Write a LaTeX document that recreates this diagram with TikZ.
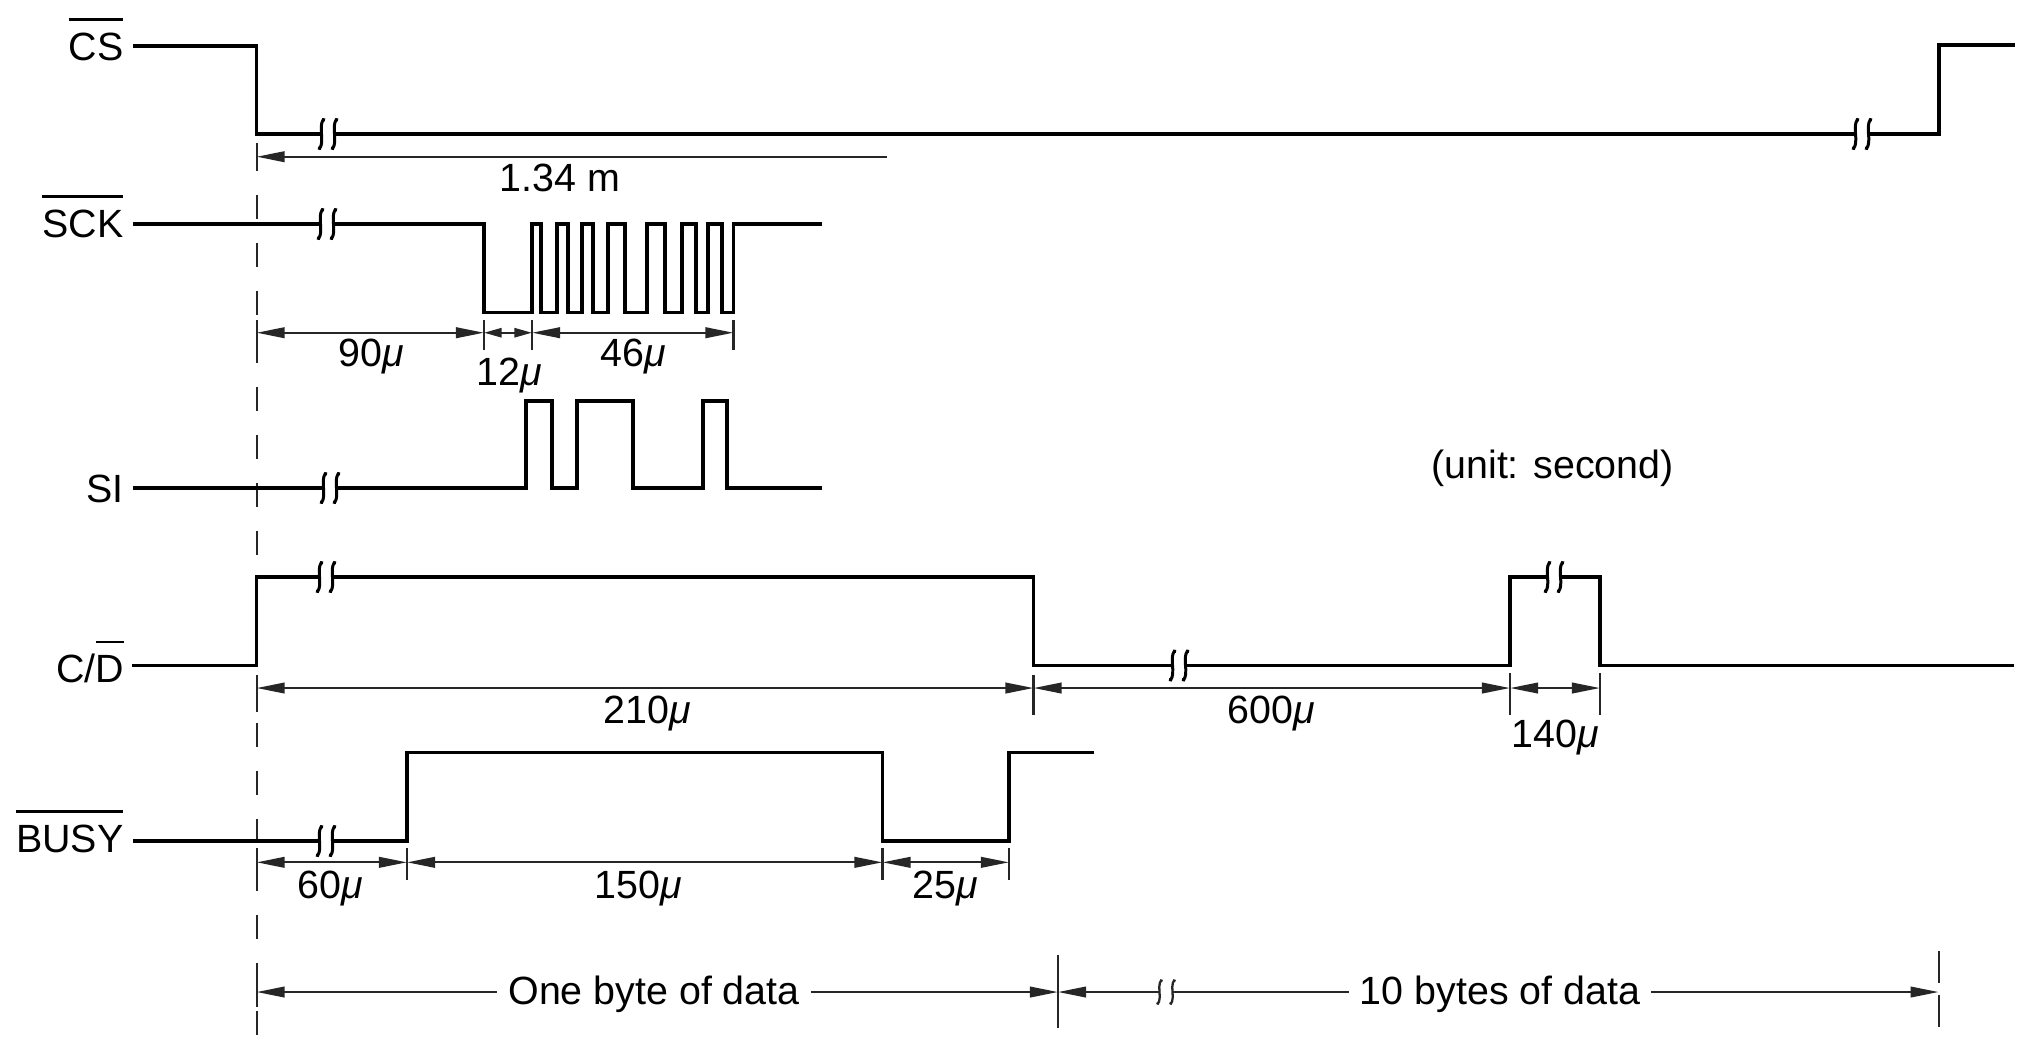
\documentclass[tikz,border=0pt]{standalone}
\usepackage{fontspec}
\setmainfont{Liberation Sans}
\usetikzlibrary{arrows.meta}
\newcommand{\ovl}[1]{\vbox{\hrule height 0.7pt\kern 3.4pt\hbox{#1}}}
\newcommand{\mus}{{\itshape μ}}
\begin{document}
\begin{tikzpicture}[x=0.01cm,y=-0.01cm,
  sig/.style={line width=0.9pt, line join=miter, black},
  dimline/.style={line width=0.65pt, black!85},
  tickline/.style={line width=0.6pt, black!85},
  both/.style={dimline, {Triangle[length=8pt,width=3pt]}-{Triangle[length=8pt,width=3pt]}},
  bothsmall/.style={dimline, {Triangle[length=5pt,width=2.6pt]}-{Triangle[length=5pt,width=2.6pt]}},
  lft/.style={dimline, {Triangle[length=8pt,width=3pt]}-},
  rgt/.style={dimline, -{Triangle[length=8pt,width=3pt]}},
  lbl/.style={font=\fontsize{11.2}{13}\selectfont, inner sep=0pt},
  guide/.style={line width=0.6pt, black!85, dash pattern=on 6.8pt off 6.85pt},
  brk/.pic={
    \draw[sig, line width=0.85pt] (-3,-14) .. controls (-5.5,-17) and (-7.5,-9) .. (-6.5,0) .. controls (-5.5,9) and (-7.5,17) .. (-10,14);
    \draw[sig, line width=0.85pt] (10,-14) .. controls (7.5,-17) and (5.5,-9) .. (6.5,0) .. controls (7.5,9) and (5.5,17) .. (3,14);
  },
  brkd/.pic={
    \draw[dimline] (-3.5,-11) .. controls (-5.5,-14) and (-7.5,-7) .. (-6.5,0) .. controls (-5.5,7) and (-7.5,14) .. (-9.5,11);
    \draw[dimline] (9.5,-11) .. controls (7.5,-14) and (5.5,-7) .. (6.5,0) .. controls (7.5,7) and (5.5,14) .. (3.5,11);
  }
]
\useasboundingbox (0,0) rectangle (2022,1050);

% ---------- signal labels ----------
\node[lbl, anchor=base east] (lcs)   at (124,60)  {\ovl{CS}};
\node[lbl, anchor=base east] (lsck)  at (124,237) {\ovl{SCK}};
\node[lbl, anchor=base east] (lsi)   at (124,502) {SI};
\node[lbl, anchor=base east] (lcd)   at (125,682) {C/\ovl{D}};
\node[lbl, anchor=base east] (lbusy) at (124,852) {\ovl{BUSY}};

% ---------- reference dashed line ----------
\draw[guide] (256.6,147) -- (256.6,1050);

% ---------- CS ----------
\draw[sig] (133,46) -- (256.6,46) -- (256.6,134) -- (321.5,134);
\draw[sig] (334.5,134) -- (1855.5,134);
\draw[sig] (1868.5,134) -- (1939,134) -- (1939,45) -- (2015,45);
\pic at (328,134) {brk};
\pic at (1862,134) {brk};

% 1.34 m
\draw[tickline] (256.6,143) -- (256.6,165);
\draw[lft] (256.6,156.7) -- (887,156.7);
\node[lbl, anchor=base] (t134) at (560,191.7) {1.34 m};

% ---------- SCK ----------
\draw[sig] (133,224) -- (320.5,224);
\draw[sig] (333.5,224) -- (484,224) -- (484,312.7) -- (532,312.7)
  -- (532,224) -- (541,224) -- (541,312.7) -- (557,312.7)
  -- (557,224) -- (568,224) -- (568,312.7) -- (582,312.7)
  -- (582,224) -- (593,224) -- (593,312.7) -- (608,312.7)
  -- (608,224) -- (625,224) -- (625,312.7) -- (647,312.7)
  -- (647,224) -- (665,224) -- (665,312.7) -- (682,312.7)
  -- (682,224) -- (696,224) -- (696,312.7) -- (708,312.7)
  -- (708,224) -- (722,224) -- (722,312.7) -- (733.5,312.7)
  -- (733.5,224) -- (822,224);
\pic at (327,224) {brk};

\foreach \xx in {256.6,484,532,733.5} \draw[tickline] (\xx,320) -- (\xx,350);
\draw[both] (256.6,332.7) -- (484,332.7);
\draw[bothsmall] (484,332.7) -- (532,332.7);
\draw[both] (532,332.7) -- (733.5,332.7);
\node[lbl, anchor=base] (t90) at (371.6,366.7) {90\mus};
\node[lbl, anchor=base] (t12) at (509,385) {12\mus};
\node[lbl, anchor=base] (t46) at (633,366.7) {46\mus};

% ---------- SI ----------
\draw[sig] (133,488) -- (323.5,488);
\draw[sig] (336.5,488) -- (526,488) -- (526,401) -- (552,401) -- (552,488)
  -- (577,488) -- (577,401) -- (633,401) -- (633,488)
  -- (703,488) -- (703,401) -- (727,401) -- (727,488) -- (822,488);
\pic at (330,488) {brk};

\node[lbl, anchor=base] (unit) at (1552.5,478) {(unit: second)};

% ---------- C/D ----------
\draw[sig] (132,665.5) -- (256.6,665.5) -- (256.6,577) -- (319.5,577);
\draw[sig] (332.5,577) -- (1033.5,577) -- (1033.5,665.5) -- (1172.5,665.5);
\draw[sig] (1185.5,665.5) -- (1510,665.5) -- (1510,577) -- (1547.5,577);
\draw[sig] (1560.5,577) -- (1600,577) -- (1600,665.5) -- (2014,665.5);
\pic at (326,577) {brk};
\pic at (1179,665.5) {brk};
\pic at (1554,577) {brk};

\draw[tickline] (256.6,677) -- (256.6,712);
\draw[tickline] (1033.5,675) -- (1033.5,715);
\draw[tickline] (1510,673) -- (1510,715);
\draw[tickline] (1600,673) -- (1600,715);
\draw[both] (256.6,688) -- (1033.5,688);
\draw[both] (1033.5,688) -- (1510,688);
\draw[both] (1510,688) -- (1600,688);
\node[lbl, anchor=base] (t210) at (647,723) {210\mus};
\node[lbl, anchor=base] (t600) at (1271,723) {600\mus};
\node[lbl, anchor=base] (t140) at (1555,747) {140\mus};

% ---------- BUSY ----------
\draw[sig] (133,841) -- (319.5,841);
\draw[sig] (332.5,841) -- (407,841) -- (407,752.5) -- (882.5,752.5) -- (882.5,841)
  -- (1009,841) -- (1009,752.5) -- (1094,752.5);
\pic at (326,841) {brk};

\foreach \xx in {256.6,407,882.5,1009} \draw[tickline] (\xx,848) -- (\xx,880);
\draw[both] (256.6,862.3) -- (407,862.3);
\draw[both] (407,862.3) -- (882.5,862.3);
\draw[both] (882.5,862.3) -- (1009,862.3);
\node[lbl, anchor=base] (t60)  at (330,898) {60\mus};
\node[lbl, anchor=base] (t150) at (638,898) {150\mus};
\node[lbl, anchor=base] (t25)  at (945,898) {25\mus};

% ---------- bytes row ----------
\node[lbl, anchor=base] (one) at (654,1004) {One byte of data};
\node[lbl, anchor=base] (ten) at (1500,1004) {10 bytes of data};
\draw[tickline] (256.6,980) -- (256.6,1007);
\draw[tickline] (1058,955) -- (1058,1028);
\draw[tickline, dash pattern=on 9pt off 3.5pt] (1938.6,951) -- (1938.6,1032);
\draw[lft] (256.6,992) -- ([xshift=-3pt]one.west |- 0,992);
\draw[rgt] ([xshift=3pt]one.east |- 0,992) -- (1058,992);
\draw[lft] (1058,992) -- (1159.5,992);
\draw[dimline] (1172.5,992) -- ([xshift=-3pt]ten.west |- 0,992);
\pic at (1166,992) {brkd};
\draw[rgt] ([xshift=3pt]ten.east |- 0,992) -- (1938.6,992);
\end{tikzpicture}
\end{document}
